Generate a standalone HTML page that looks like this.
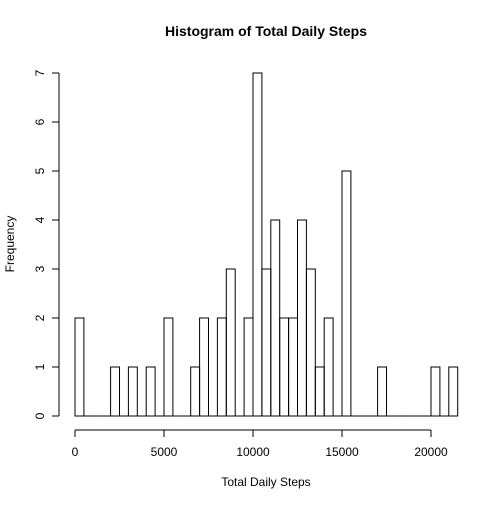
<!DOCTYPE html>
<html><head><meta charset="utf-8"><style>body{margin:0;background:#fff}svg{font-family:"Liberation Sans",sans-serif}</style></head>
<body>
<svg id="c" width="504" height="504"></svg>
<script>
const binWidth = 500;
const counts = [2,0,0,0,1,0,1,0,1,0,2,0,0,1,2,0,2,3,0,2,7,3,4,2,2,4,3,1,2,0,5,0,0,0,1,0,0,0,0,0,1,0,1];
const xTicks = [0,5000,10000,15000,20000];
const yTicks = [0,1,2,3,4,5,6,7];
const svg = document.getElementById('c');
const NS='http://www.w3.org/2000/svg';
const xs = v => 75 + (v/20000)*356;
const ys = v => 416 - (v/7)*343;
function mk(t,a,txt){const e=document.createElementNS(NS,t);for(const k in a)e.setAttribute(k,a[k]);if(txt!==undefined)e.textContent=txt;svg.appendChild(e);return e;}
counts.forEach((c,i)=>{
  const r=mk('rect',{x:xs(i*binWidth),y:ys(c),width:xs((i+1)*binWidth)-xs(i*binWidth),height:ys(0)-ys(c),fill:'none',stroke:'#000','stroke-width':1});
  
  
  if(c===0){
    const b=mk('line',{x1:xs(i*binWidth),x2:xs((i+1)*binWidth),y1:ys(0),y2:ys(0),stroke:'#000'});
    
    
  }
});
let l=mk('line',{x1:xs(xTicks[0]),x2:xs(xTicks[xTicks.length-1]),y1:430,y2:430,stroke:'#000'});


xTicks.forEach(t=>{
  mk('line',{x1:xs(t),x2:xs(t),y1:430,y2:437,stroke:'#000'});
  const e=mk('text',{x:xs(t),y:456,'font-size':12,'text-anchor':'middle'},String(t));
  
  
});
l=mk('line',{x1:59,x2:59,y1:ys(yTicks[0]),y2:ys(yTicks[yTicks.length-1]),stroke:'#000'});


yTicks.forEach(t=>{
  mk('line',{x1:52,x2:59,y1:ys(t),y2:ys(t),stroke:'#000'});
  const e=mk('text',{x:44,y:ys(t),'font-size':12,'text-anchor':'middle',transform:`rotate(-90 44 ${ys(t)})`},String(t));
  
  
});
let t=mk('text',{x:266,y:36,'font-size':14,'font-weight':'bold','text-anchor':'middle'},'Histogram of Total Daily Steps');


t=mk('text',{x:266,y:486,'font-size':12,'text-anchor':'middle'},'Total Daily Steps');


t=mk('text',{x:14,y:244,'font-size':12,'text-anchor':'middle',transform:'rotate(-90 14 244)'},'Frequency');


</script>
</body></html>
